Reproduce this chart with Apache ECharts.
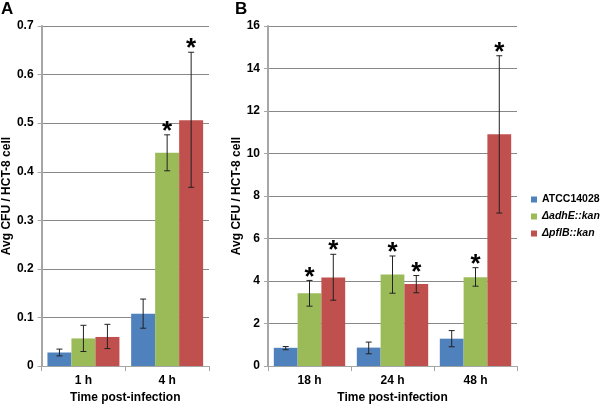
<!DOCTYPE html>
<html><head><meta charset="utf-8">
<script src="https://cdn.jsdelivr.net/npm/echarts@6/dist/echarts.min.js"></script>
<style>html,body{margin:0;padding:0;background:#fff}#c{width:600px;height:409px}</style>
</head><body><div id="c"></div>
<script>
// ---- data ----
var seriesNames = ['ATCC14028', 'ΔadhE::kan', 'ΔpflB::kan'];
var categoriesA = ['1 h', '4 h'];
var categoriesB = ['18 h', '24 h', '48 h'];
// panel A values
var wtA  = [0.028, 0.108];
var adhA = [0.057, 0.439];
var pflA = [0.060, 0.506];
var wtA_lo  = [0.021, 0.078], wtA_hi  = [0.035, 0.138];
var adhA_lo = [0.030, 0.402], adhA_hi = [0.084, 0.476];
var pflA_lo = [0.036, 0.368], pflA_hi = [0.086, 0.646];
var wtA_star = [0, 0], adhA_star = [0, 1], pflA_star = [0, 1];
// panel B values
var wtB  = [0.86, 0.87, 1.29];
var adhB = [3.43, 4.31, 4.18];
var pflB = [4.17, 3.86, 10.91];
var wtB_lo  = [0.77, 0.58, 0.91], wtB_hi  = [0.92, 1.13, 1.67];
var adhB_lo = [2.82, 3.43, 3.76], adhB_hi = [4.03, 5.18, 4.63];
var pflB_lo = [3.10, 3.45, 7.20], pflB_hi = [5.26, 4.26, 14.60];
var wtB_star = [0, 0, 0], adhB_star = [1, 1, 1], pflB_star = [1, 1, 1];
var ticksA = {min: 0, max: 0.7, interval: 0.1};
var ticksB = {min: 0, max: 16, interval: 2};

var colors = ['#4F81BD', '#9BBB59', '#C0504D'];
var GAP = 0.14;
var font = 'Liberation Sans, Arial, sans-serif';

function errSeries(name, idx, gridIdx, lo, hi, star) {
  var data = lo.map(function (v, i) { return [i, v, hi[i], star[i]]; });
  return {
    type: 'custom', name: name, xAxisIndex: gridIdx, yAxisIndex: gridIdx, z: 10,
    silent: true,
    renderItem: function (params, api) {
      var x = api.value(0);
      var band = api.size([1, 0])[0];
      var bw = band * (1 - GAP) / 3;
      var cx = api.coord([x, 0])[0] + (idx - 1) * bw;
      var yl = api.coord([x, api.value(1)])[1];
      var yh = api.coord([x, api.value(2)])[1];
      var cap = 3;
      var st = {stroke: '#222', lineWidth: 1};
      var ch = [
        {type: 'line', shape: {x1: cx, y1: yl, x2: cx, y2: yh}, style: st},
        {type: 'line', shape: {x1: cx - cap, y1: yl, x2: cx + cap, y2: yl}, style: st},
        {type: 'line', shape: {x1: cx - cap, y1: yh, x2: cx + cap, y2: yh}, style: st}
      ];
      if (api.value(3)) {
        ch.push({type: 'text', style: {text: '*', x: cx, y: yh + 10, align: 'center', verticalAlign: 'bottom',
          font: 'bold 26px ' + font, fill: '#000'}});
      }
      return {type: 'group', children: ch};
    },
    encode: {x: 0, y: [1, 2]},
    data: data
  };
}
function barSeries(name, idx, gridIdx, vals) {
  return {type: 'bar', name: name, xAxisIndex: gridIdx, yAxisIndex: gridIdx, data: vals,
    barGap: '0%', barCategoryGap: (GAP * 100) + '%', itemStyle: {color: colors[idx]}, z: 2};
}

var axisLabel = {color: '#000', fontWeight: 'bold', fontSize: 12, fontFamily: font};
function xAxis(gi, cats) {
  return {type: 'category', gridIndex: gi, data: cats,
    axisLine: {lineStyle: {color: '#a6a6a6', width: 1}},
    axisTick: {show: true, length: 5, lineStyle: {color: '#a6a6a6'}},
    axisLabel: Object.assign({margin: 9}, axisLabel),
    name: 'Time post-infection', nameLocation: 'middle', nameGap: 23,
    nameTextStyle: {color: '#000', fontWeight: 'bold', fontSize: 12, fontFamily: font}};
}
function yAxis(gi, t, fmt) {
  return {type: 'value', gridIndex: gi, min: t.min, max: t.max, interval: t.interval,
    axisLine: {show: true, lineStyle: {color: '#a6a6a6', width: 2}},
    axisTick: {show: true, length: 4, inside: false, lineStyle: {color: '#a6a6a6'}},
    splitLine: {lineStyle: {color: '#888', width: 1}},
    axisLabel: Object.assign({margin: 8, formatter: fmt}, axisLabel),
    name: 'Avg CFU / HCT-8 cell', nameLocation: 'middle', nameGap: gi === 0 ? 26 : 17,
    nameTextStyle: {color: '#000', fontWeight: 'bold', fontSize: 12, fontFamily: font}};
}

var option = {
  animation: false,
  backgroundColor: '#fff',
  textStyle: {fontFamily: font},
  title: [
    {text: 'A', left: 1, top: 1, padding: 0, textStyle: {fontSize: 17, fontWeight: 'bold', color: '#000', fontFamily: font}},
    {text: 'B', left: 235, top: 1, padding: 0, textStyle: {fontSize: 17, fontWeight: 'bold', color: '#000', fontFamily: font}}
  ],
  legend: {
    data: seriesNames, orient: 'vertical', left: 531, top: 194, itemGap: 6, padding: 0,
    itemWidth: 6, itemHeight: 6, icon: 'rect',
    formatter: function (n) { return n === 'ATCC14028' ? '{b|' + n + '}' : '{i|' + n + '}'; },
    textStyle: {rich: {
      b: {fontWeight: 'bold', fontSize: 10.5, color: '#000', fontFamily: font},
      i: {fontWeight: 'bold', fontStyle: 'italic', fontSize: 10.5, color: '#000', fontFamily: font}}}
  },
  grid: [
    {left: 39, top: 26, width: 170, height: 348},
    {left: 268, top: 26, width: 249, height: 348}
  ],
  xAxis: [xAxis(0, categoriesA), xAxis(1, categoriesB)],
  yAxis: [yAxis(0, ticksA, function (v) { return String(Math.round(v * 10) / 10); }),
          yAxis(1, ticksB, function (v) { return String(v); })],
  series: [
    barSeries(seriesNames[0], 0, 0, wtA), barSeries(seriesNames[1], 1, 0, adhA), barSeries(seriesNames[2], 2, 0, pflA),
    barSeries(seriesNames[0], 0, 1, wtB), barSeries(seriesNames[1], 1, 1, adhB), barSeries(seriesNames[2], 2, 1, pflB),
    errSeries(seriesNames[0], 0, 0, wtA_lo, wtA_hi, wtA_star),
    errSeries(seriesNames[1], 1, 0, adhA_lo, adhA_hi, adhA_star),
    errSeries(seriesNames[2], 2, 0, pflA_lo, pflA_hi, pflA_star),
    errSeries(seriesNames[0], 0, 1, wtB_lo, wtB_hi, wtB_star),
    errSeries(seriesNames[1], 1, 1, adhB_lo, adhB_hi, adhB_star),
    errSeries(seriesNames[2], 2, 1, pflB_lo, pflB_hi, pflB_star)
  ]
};
var chart = echarts.init(document.getElementById('c'), null, {renderer: 'canvas'});
chart.setOption(option);
</script></body></html>
